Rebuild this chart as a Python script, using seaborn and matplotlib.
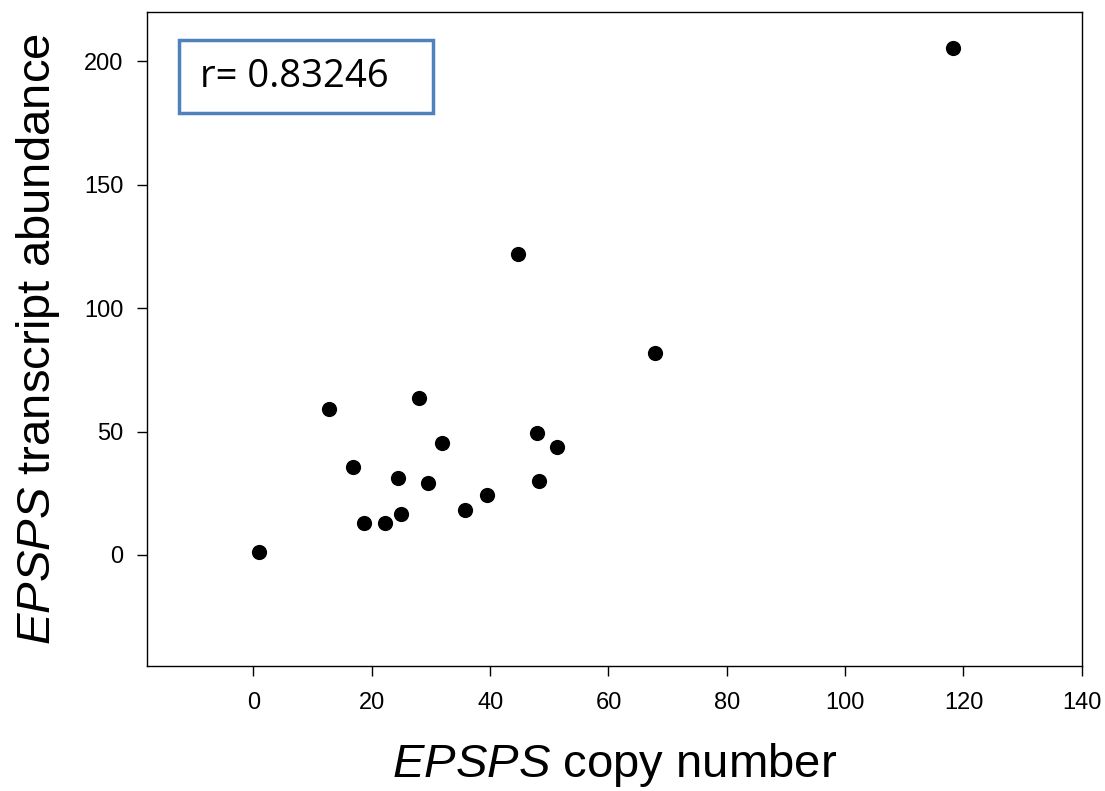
import matplotlib.pyplot as plt
import matplotlib.patches as mpatches
import seaborn as sns
import pandas as pd

# EPSPS copy number vs transcript abundance
copy_number = [1.0, 12.7, 16.9, 18.6, 22.2, 24.4, 24.9, 27.9, 29.5, 31.8,
               35.7, 39.4, 44.7, 47.9, 48.2, 51.3, 67.9, 118.3]
transcript = [1.2, 59.1, 35.6, 13.0, 13.0, 31.2, 16.6, 63.6, 29.1, 45.3,
              18.2, 24.3, 121.9, 49.4, 30.0, 43.7, 81.8, 205.3]
r_label = "r= 0.83246"

x_ticks = [0, 20, 40, 60, 80, 100, 120, 140]
y_ticks = [0, 50, 100, 150, 200]

df = pd.DataFrame({"copy": copy_number, "transcript": transcript})

sns.set_style("white")
plt.rcParams["font.family"] = ["Liberation Sans", "DejaVu Sans"]
plt.rcParams["mathtext.fontset"] = "custom"
plt.rcParams["mathtext.it"] = "Liberation Sans:italic"
plt.rcParams["mathtext.rm"] = "Liberation Sans"
plt.rcParams["text.color"] = "black"
plt.rcParams["axes.labelcolor"] = "black"

fig = plt.figure(figsize=(11.05, 7.91), dpi=100)
ax = fig.add_axes([0.133, 0.158, 0.846, 0.827])

sns.scatterplot(data=df, x="copy", y="transcript", ax=ax,
                color="black", s=120, edgecolor="black", linewidth=0)

ax.set_xlim(-18, 140)
ax.set_ylim(-45, 220)
ax.set_xticks(x_ticks)
ax.set_yticks(y_ticks)
ax.tick_params(direction="out", length=7, width=1, colors="black",
               labelsize=17, left=True, pad=10)
ax.tick_params(axis="x", bottom=True, pad=12)
for sp in ax.spines.values():
    sp.set_color("black")
    sp.set_linewidth(1)

ax.set_xlabel(r"$\it{EPSPS}$ copy number", fontsize=34, labelpad=19)
ax.set_ylabel(r"$\it{EPSPS}$ transcript abundance", fontsize=34, labelpad=16)

# correlation box
ax.add_patch(mpatches.Rectangle((0.034, 0.846), 0.272, 0.111,
                                transform=ax.transAxes, fill=False,
                                edgecolor="#4F81BD", linewidth=2.5))
ax.text(0.057, 0.9, r_label, transform=ax.transAxes, fontsize=27.5,
        va="center", ha="left", color="black",
        family=["Open Sans", "DejaVu Sans"])

fig.savefig("out.png", dpi=100)
